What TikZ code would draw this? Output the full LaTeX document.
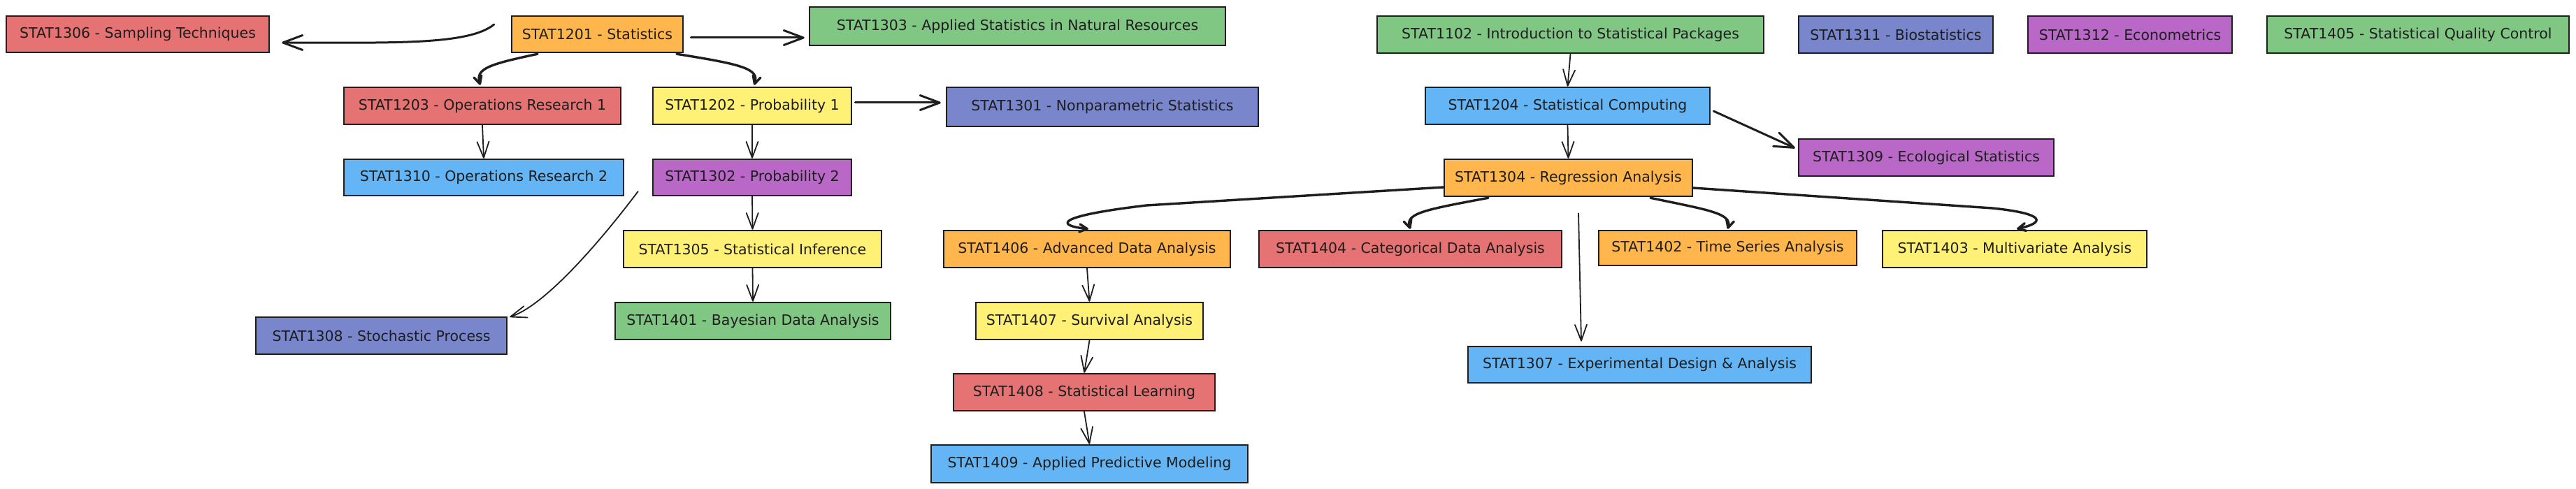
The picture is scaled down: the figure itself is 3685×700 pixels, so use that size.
\documentclass[tikz,border=0pt]{standalone}
\usepackage{fontspec}
\setmainfont{DejaVu Sans}
\usetikzlibrary{arrows.meta,calc}
\definecolor{ink}{HTML}{1E1E1E}
\definecolor{cred}{HTML}{E57373}
\definecolor{corange}{HTML}{FFB74D}
\definecolor{cgreen}{HTML}{81C784}
\definecolor{cyellow}{HTML}{FFF176}
\definecolor{cindigo}{HTML}{7986CB}
\definecolor{cblue}{HTML}{64B5F6}
\definecolor{cpurple}{HTML}{BA68C8}
\begin{document}
\begin{tikzpicture}[x=1pt,y=-1pt,
  box/.style={draw=ink, line width=2.5pt, inner sep=0pt, text=ink, font=\fontsize{20.5}{22}\selectfont},
  thinarr/.style={draw=ink, line width=1.8pt, line cap=round, line join=round, -{Straight Barb[length=23pt,width=17pt,round]}},
  strarr/.style={draw=ink, line width=3pt, line cap=round, line join=round, -{Straight Barb[length=28pt,width=21pt,round]}},
  curvarr/.style={draw=ink, line width=3.4pt, line cap=round, line join=round, -{Straight Barb[length=11pt,width=11pt,round]}}]
\useasboundingbox (0,0) rectangle (3685,700);
\fill[white] (0,0) rectangle (3685,700);
% nodes
\node[box, fill=cred, minimum width=376, minimum height=52] (n1306) at (197,49) {STAT1306 - Sampling Techniques};
\node[box, fill=corange, minimum width=245, minimum height=52] (n1201) at (854.5,49) {STAT1201 - Statistics};
\node[box, fill=cgreen, minimum width=595, minimum height=55] (n1303) at (1455.5,37.5) {STAT1303 - Applied Statistics in Natural Resources};
\node[box, fill=cred, minimum width=396, minimum height=53] (n1203) at (690,151.5) {STAT1203 - Operations Research 1};
\node[box, fill=cyellow, minimum width=284, minimum height=53] (n1202) at (1076,151.5) {STAT1202 - Probability 1};
\node[box, fill=cindigo, minimum width=446, minimum height=56] (n1301) at (1577,153) {STAT1301 - Nonparametric Statistics};
\node[box, fill=cblue, minimum width=400, minimum height=52] (n1310) at (692,254) {STAT1310 - Operations Research 2};
\node[box, fill=cpurple, minimum width=284, minimum height=52] (n1302) at (1076,254) {STAT1302 - Probability 2};
\node[box, fill=cyellow, minimum width=369, minimum height=53] (n1305) at (1076.5,356.5) {STAT1305 - Statistical Inference};
\node[box, fill=cgreen, minimum width=394, minimum height=53] (n1401) at (1077,459.5) {STAT1401 - Bayesian Data Analysis};
\node[box, fill=cindigo, minimum width=359, minimum height=53] (n1308) at (545.5,480.5) {STAT1308 - Stochastic Process};
\node[box, fill=cgreen, minimum width=553, minimum height=53] (n1102) at (2246.5,49.5) {STAT1102 - Introduction to Statistical Packages};
\node[box, fill=cblue, minimum width=407, minimum height=53] (n1204) at (2242.5,151.5) {STAT1204 - Statistical Computing};
\node[box, fill=corange, minimum width=355, minimum height=53] (n1304) at (2243.5,254.5) {STAT1304 - Regression Analysis};
\node[box, fill=cpurple, minimum width=365, minimum height=53] (n1309) at (2755.5,225.5) {STAT1309 - Ecological Statistics};
\node[box, fill=cindigo, minimum width=278, minimum height=53] (n1311) at (2712,49.5) {STAT1311 - Biostatistics};
\node[box, fill=cpurple, minimum width=292, minimum height=53] (n1312) at (3047,49.5) {STAT1312 - Econometrics};
\node[box, fill=cgreen, minimum width=432, minimum height=53] (n1405) at (3459,49.5) {STAT1405 - Statistical Quality Control};
\node[box, fill=corange, minimum width=410, minimum height=53] (n1406) at (1555,356.5) {STAT1406 - Advanced Data Analysis};
\node[box, fill=cred, minimum width=433, minimum height=53] (n1404) at (2017.5,356.5) {STAT1404 - Categorical Data Analysis};
\node[box, fill=corange, minimum width=369, minimum height=50] (n1402) at (2471.5,355) {STAT1402 - Time Series Analysis};
\node[box, fill=cyellow, minimum width=378, minimum height=53] (n1403) at (2882,356.5) {STAT1403 - Multivariate Analysis};
\node[box, fill=cyellow, minimum width=325, minimum height=53] (n1407) at (1558.5,459.5) {STAT1407 - Survival Analysis};
\node[box, fill=cred, minimum width=374, minimum height=53] (n1408) at (1551,561.5) {STAT1408 - Statistical Learning};
\node[box, fill=cblue, minimum width=453, minimum height=54] (n1409) at (1558.5,664) {STAT1409 - Applied Predictive Modeling};
\node[box, fill=cblue, minimum width=491, minimum height=52] (n1307) at (2345.5,522) {STAT1307 - Experimental Design \& Analysis};
% connectors
\draw[strarr] ($(n1201.west)+(-24,-14)$) .. controls (670,65) and (560,61) .. ($(n1306.east)+(17,12)$);
\draw[strarr] ($(n1201.east)+(10,5)$) -- ($(n1303.west)+(-6,16.5)$);
\draw[curvarr] ($(n1201.south)+(-85.5,1)$) .. controls (700,92) and (680,98) .. ($(n1203.north)+(-3,-2)$);
\draw[curvarr] ($(n1201.south)+(113.5,1)$) .. controls (1060,92) and (1086,98) .. ($(n1202.north)+(3,-2)$);
\draw[thinarr] (n1203.south) -- (n1310.north);
\draw[thinarr] (n1202.south) -- (n1302.north);
\draw[strarr] ($(n1202.east)+(4,-4.5)$) -- ($(n1301.west)+(-7,-6)$);
\draw[thinarr] (n1302.south) -- (n1305.north);
\draw[thinarr] ($(n1302.west)+(-20,20)$) .. controls (847,361) and (775,439) .. ($(n1308.north east)+(3,1)$);
\draw[thinarr] (n1305.south) -- (n1401.north);
\draw[thinarr] (n1102.south) -- (n1204.north);
\draw[thinarr] (n1204.south) -- (n1304.north);
\draw[strarr] ($(n1204.east)+(4,7.5)$) -- ($(n1309.west)+(-4,-13.5)$);
\draw[curvarr] ($(n1304.west)+(0,13.5)$) -- (1640,294) .. controls (1505,310) and (1512,323) .. ($(n1406.north)+(2,-1)$);
\draw[curvarr] ($(n1304.south)+(-114.5,1)$) .. controls (2040,300) and (2010,305) .. ($(n1404.north)+(0,-1)$);
\draw[curvarr] ($(n1304.south)+(117.5,1)$) .. controls (2440,300) and (2478,305) .. ($(n1402.north)+(0,-1)$);
\draw[curvarr] ($(n1304.east)+(0,14.5)$) -- (2850,298) .. controls (2928,306) and (2925,319) .. ($(n1403.north)+(3,-1)$);
\draw[thinarr] ($(n1304.south)+(14.5,23)$) -- ($(n1307.north)+(-83.5,-6)$);
\draw[thinarr] (n1406.south) -- (n1407.north);
\draw[thinarr] (n1407.south) -- (n1408.north);
\draw[thinarr] (n1408.south) -- (n1409.north);
\end{tikzpicture}
\end{document}
